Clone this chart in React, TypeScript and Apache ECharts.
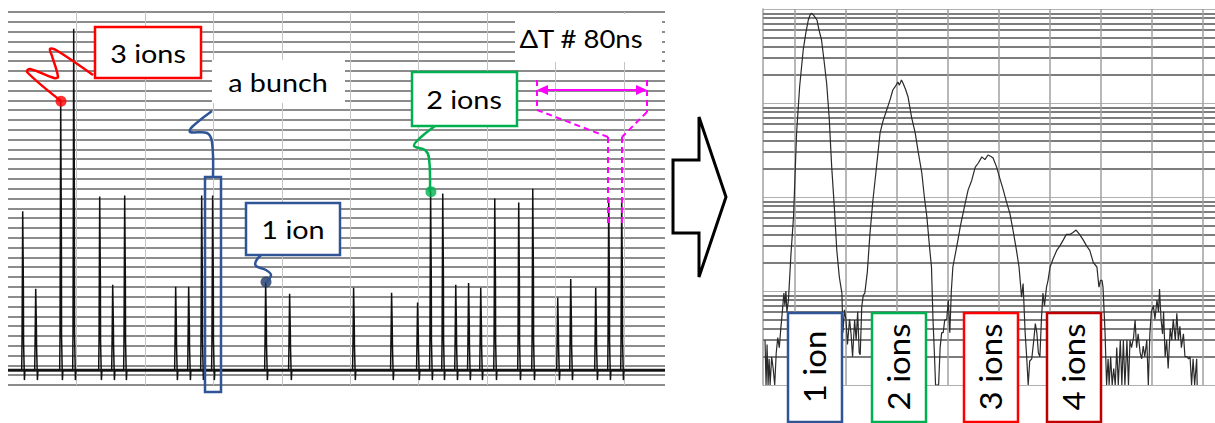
import React, { useEffect, useRef } from "react";
import * as echarts from "echarts";

// ---- Left panel: oscilloscope trace (time in ns, amplitude in mV) ----
const spikeTimesNs = [88, 164, 310, 386, 538, 614, 684, 982, 1058, 1134, 1198, 1508, 1648, 2022, 2244, 2396, 2472, 2543, 2619, 2694, 2765, 2847, 2987, 3069, 3215, 3291, 3437, 3513, 3589];
const spikeHeightsMv = [157, 78, 269, 343, 172, 82, 173, 80, 80, 173, 173, 85, 73, 79, 74, 64, 177, 175, 82, 84, 79, 170, 166, 180, 69, 88, 79, 169, 171];
const baselineMv = -5;
const undershootMv = -15;
const markedSpikeIndex = [2, 11, 16];
const markedSpikeColor = ["#ff0000", "#1f3864", "#00b050"];

// ---- Right panel: pulse-height histogram (channel, counts, log scale) ----
const histChannels = [4, 6, 8, 10, 12, 14, 17, 20, 23, 26, 29, 32, 35, 38, 41, 43, 45, 47, 50, 55, 60, 66, 72, 79, 84, 89, 93, 96, 100, 106, 110, 115, 120, 125, 130, 135, 140, 145, 150, 155, 157, 160, 163, 166, 170, 173, 176, 180, 183, 186, 189, 191, 194, 197, 200, 205, 210, 216, 223, 230, 236, 243, 250, 255, 260, 265, 268, 272, 275, 280, 285, 292, 299, 305, 312, 317, 322, 327, 331, 334, 337, 339, 345, 348, 351, 354, 357, 361, 364, 367, 370, 373, 378, 383, 388, 393, 398, 403, 410, 417, 423, 430, 436, 442, 448, 452, 459, 465, 472, 478, 485, 491, 498, 503, 508, 511, 515, 518, 521, 524, 528, 532, 535, 538, 541, 544, 547, 550, 553, 557, 560, 564, 570, 577, 583, 590, 596, 603, 609, 615, 622, 629, 636, 642, 649, 656, 660, 663, 666, 668, 672, 675, 678, 680, 683, 686, 689, 692, 695, 698, 702, 705, 708, 711, 715, 718, 721, 724, 728, 731, 734, 737, 741, 744, 747, 750, 754, 757, 760, 763, 767, 770, 774, 777, 779, 782, 785, 787, 790, 793, 796, 800, 803, 806, 810, 813, 816, 819, 822, 826, 829, 833, 836, 839, 842, 845, 848, 852, 853];
const histCounts = [3, 1, 2.7, 1, 1.9, 1, 2, 1.5, 1, 2.2, 3.2, 2.5, 4, 6, 9.5, 7, 10, 6, 8, 25, 62, 480, 1500, 3660, 5500, 7640, 8800, 9000, 8500, 7640, 6000, 4680, 2800, 1630, 700, 208, 80, 27, 14, 9.5, 3.6, 6.3, 5, 2.7, 5, 3.5, 2, 4.9, 3, 6, 2.2, 2.1, 6.8, 9, 9.5, 16, 40, 93, 210, 480, 650, 843, 1100, 1375, 1500, 1670, 1550, 1760, 1630, 1400, 1160, 700, 480, 300, 180, 100, 61, 30, 18, 4.9, 2, 1, 1, 2.5, 3.6, 3.6, 4.9, 5, 8, 3.6, 10, 18, 25, 35, 50, 67, 90, 119, 150, 208, 230, 267, 250, 280, 270, 260, 208, 160, 119, 90, 67, 45, 27, 18, 8.6, 12, 3.6, 2, 1, 1.8, 1.9, 3, 4.5, 3.6, 2.2, 2, 5, 9.5, 7, 11, 13, 18, 22, 27, 30, 35, 40, 40, 42, 44.5, 40, 35, 30, 27, 20, 18, 11, 13, 13, 11, 3.6, 1, 1.9, 1, 2, 1, 1.5, 1, 2.5, 1, 3, 1, 3, 1, 3, 1, 3, 2.5, 3.2, 4.9, 2.5, 3.5, 2.2, 1.9, 2.6, 2, 3, 1, 3.5, 6, 7, 5, 8, 6, 10.5, 5, 3.5, 6, 2, 3, 1.5, 4, 3, 5, 3, 5.8, 3, 4.2, 2.5, 3.5, 2, 2, 1.9, 2, 1, 1.9, 1, 1.9, 1];
const channelGridLines = [63, 163, 263, 363, 463, 563, 663, 763, 863];
const logMinorLines = [2, 3, 4, 5, 6, 7, 8, 9, 20, 30, 40, 50, 60, 70, 80, 90, 200, 300, 400, 500, 600, 700, 800, 900, 2000, 3000, 4000, 5000, 6000, 7000, 8000, 9000];

const leftLabels = ["3 ions", "a bunch", "2 ions", "1 ion", "\u0394T # 80ns"];
const rightLabels = ["1 ion", "2 ions", "3 ions", "4 ions"];
const rightLabelColors = ["#2f5597", "#00b050", "#ff0000", "#c00000"];

function buildTrace() {
  const pts: number[][] = [[0, baselineMv]];
  spikeTimesNs.forEach((t, i) => {
    const h = spikeHeightsMv[i];
    const s = 16 + 0.05 * h;
    const m = 0.5 * h;
    pts.push([t - 8, baselineMv], [t - 6, s], [t - 3, s], [t - 2, h], [t + 1, h], [t + 2, m], [t + 3, s], [t + 6, s], [t + 8, undershootMv], [t + 11, baselineMv]);
  });
  pts.push([3840, baselineMv]);
  return pts;
}

const leftFont = "25px Lato";
const rightFont = "30px Lato";

function txt(text: string, x: number, y: number, font: string, rotation = 0, scaleX = 1.15) {
  return {
    type: "text",
    x,
    y,
    rotation,
    scaleX,
    z: 102,
    style: { text, font, fill: "#000", align: "center", verticalAlign: "middle", textAlign: "center", textVerticalAlign: "middle" },
  };
}

function box(x: number, y: number, w: number, h: number, stroke: string | null) {
  return {
    type: "rect",
    z: 101,
    shape: { x, y, width: w, height: h },
    style: { fill: "#fff", stroke: stroke || "none", lineWidth: stroke ? 2.5 : 0 },
  };
}

function curve(points: number[][], color: string) {
  return {
    type: "polyline",
    z: 100,
    shape: { points, smooth: 0.35 },
    style: { stroke: color, lineWidth: 2.5, fill: "none" },
  };
}

function dash(x1: number, y1: number, x2: number, y2: number) {
  return {
    type: "line",
    z: 100,
    shape: { x1, y1, x2, y2 },
    style: { stroke: "#ff00ff", lineWidth: 2, lineDash: [6, 4] },
  };
}

export default function App() {
  const ref = useRef<HTMLDivElement>(null);
  useEffect(() => {
    if (!ref.current) return;
    const chart = echarts.init(ref.current, null, { renderer: "svg" });
    const trace = buildTrace();
    const hist = histChannels.map((c, i) => [c, histCounts[i]]);
    const dots = markedSpikeIndex.map((idx, k) => ({
      value: [spikeTimesNs[idx], spikeHeightsMv[idx]],
      itemStyle: { color: markedSpikeColor[k] },
    }));
    const hide = { axisLabel: { show: false }, axisTick: { show: false } };

    const rightBoxX = [788, 872, 964, 1047];
    const graphics: any[] = [
      box(515, 14, 147, 48, null),
      txt(leftLabels[4], 581, 38, leftFont, 0, 1.1),
      box(212, 60, 133, 43, null),
      txt(leftLabels[1], 278, 82, leftFont),
      curve([[93, 75], [56, 50], [50, 49], [52, 56], [58, 77], [54, 78], [30, 69], [27, 72], [61, 101]], "#ff0000"),
      box(95, 27, 106, 51, "#ff0000"),
      txt(leftLabels[0], 148, 53, leftFont),
      curve([[212, 111], [192, 127], [190, 132], [207, 133], [212, 142], [213, 177]], "#2f5597"),
      { type: "rect", z: 100, shape: { x: 205, y: 177, width: 16, height: 215 }, style: { fill: "none", stroke: "#2f5597", lineWidth: 2.5 } },
      curve([[435, 126], [420, 138], [414, 146], [425, 150], [429, 158], [430, 192]], "#00b050"),
      box(412, 72, 105, 54, "#00b050"),
      txt(leftLabels[2], 464, 99, leftFont),
      curve([[261, 255], [256, 261], [256, 266], [266, 270], [271, 275], [266, 283]], "#2f5597"),
      box(246, 203, 94, 52, "#2f5597"),
      txt(leftLabels[3], 293, 229, leftFont),
      dash(537, 80, 537, 110),
      dash(647, 80, 647, 112),
      dash(537, 110, 608, 137),
      dash(647, 112, 622, 137),
      dash(608, 137, 608, 224),
      dash(622, 137, 622, 224),
      { type: "line", z: 100, shape: { x1: 545, y1: 90, x2: 639, y2: 90 }, style: { stroke: "#ff00ff", lineWidth: 2 } },
      { type: "polygon", z: 100, shape: { points: [[537, 90], [548, 85], [548, 95]] }, style: { fill: "#ff00ff" } },
      { type: "polygon", z: 100, shape: { points: [[647, 90], [636, 85], [636, 95]] }, style: { fill: "#ff00ff" } },
      { type: "polygon", z: 100, shape: { points: [[673, 160], [699, 160], [699, 117], [726, 197], [699, 277], [699, 233], [673, 233]] }, style: { fill: "#fff", stroke: "#000", lineWidth: 3 } },
    ];
    rightLabels.forEach((label, i) => {
      graphics.push(box(rightBoxX[i], 313, 54, 109, rightLabelColors[i]));
      graphics.push(txt(label, rightBoxX[i] + 27, 367, rightFont, Math.PI / 2, 1.1));
    });

    chart.setOption({
      animation: false,
      backgroundColor: "#fff",
      grid: [
        { left: 8, top: 12, width: 657, height: 373 },
        { left: 763, top: 9, width: 452, height: 376 },
      ],
      xAxis: [
        {
          type: "value", gridIndex: 0, min: 0, max: 3840, interval: 400, ...hide,
          axisLine: { show: false },
          splitLine: { show: true, showMinLine: false, showMaxLine: false, lineStyle: { color: "#c4c4c4", width: 1 } },
        },
        {
          type: "value", gridIndex: 1, min: 0, max: 888, ...hide,
          axisLine: { show: false },
          splitLine: { show: false },
        },
      ],
      yAxis: [
        {
          type: "value", gridIndex: 0, min: -20, max: 360, interval: 10, ...hide,
          axisLine: { show: false },
          splitLine: { show: true, lineStyle: { color: "#8c8c8c", width: 2 } },
        },
        {
          type: "log", logBase: 10, gridIndex: 1, min: 1, max: 10000, ...hide,
          axisLine: { show: true, lineStyle: { color: "#a0a0a0", width: 1.5 } },
          splitLine: { show: true, lineStyle: { color: "#b0b0b0", width: 1 } },
        },
      ],
      series: [
        {
          type: "line", xAxisIndex: 0, yAxisIndex: 0, data: [[0, baselineMv], [3840, baselineMv]],
          showSymbol: false, symbol: "none", silent: true, z: 3,
          lineStyle: { color: "#222", width: 3 },
        },
        {
          type: "line", xAxisIndex: 0, yAxisIndex: 0, data: trace,
          showSymbol: false, symbol: "none", silent: true, z: 4,
          lineStyle: { color: "#111", width: 1.5 },
        },
        {
          type: "scatter", xAxisIndex: 0, yAxisIndex: 0, data: dots,
          symbolSize: 11, silent: true, z: 6,
        },
        {
          type: "line", xAxisIndex: 1, yAxisIndex: 1, data: [[0, 1]],
          showSymbol: false, symbol: "none", silent: true, z: 1,
          lineStyle: { opacity: 0 },
          markLine: {
            silent: true, symbol: ["none", "none"], label: { show: false }, z: 1,
            lineStyle: { color: "#7d7d7d", width: 2, type: "solid" },
            data: [
              ...logMinorLines.map((v) => ({ yAxis: v })),
              ...channelGridLines.map((v) => ({ xAxis: v, lineStyle: { color: "#a0a0a0", width: 1.5, type: "solid" } })),
            ],
          },
        },
        {
          type: "line", xAxisIndex: 1, yAxisIndex: 1, data: hist,
          showSymbol: false, symbol: "none", silent: true, z: 5,
          lineStyle: { color: "#2a2a2a", width: 1.2 },
        },
      ],
      graphic: { elements: graphics },
    });
    return () => chart.dispose();
  }, []);
  return <div ref={ref} style={{ position: "fixed", left: 0, top: 0, width: 1215, height: 423 }} />;
}
